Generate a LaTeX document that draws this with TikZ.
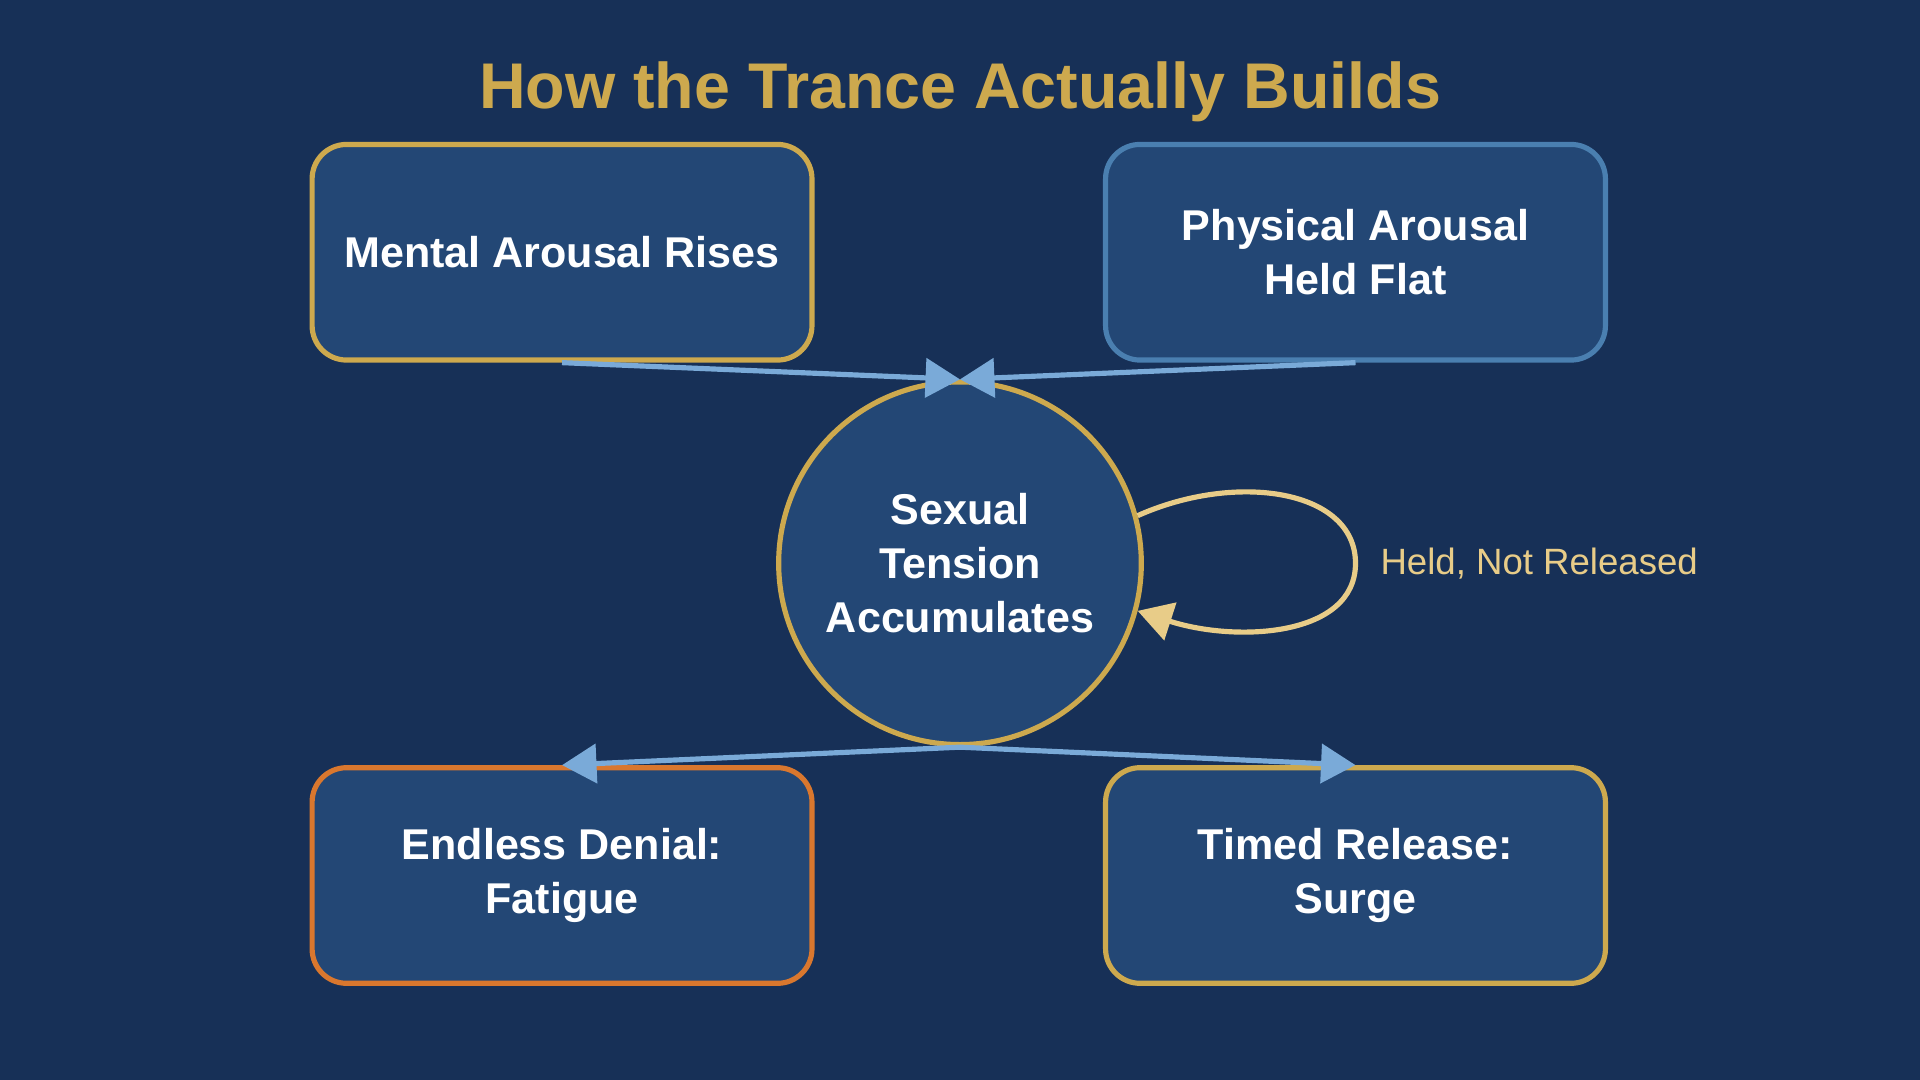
\documentclass[tikz,border=0pt]{standalone}
\usepackage{fontspec}
\setmainfont{Liberation Sans}
\usetikzlibrary{positioning}
\usetikzlibrary{arrows.meta}
\definecolor{bg}{HTML}{173057}
\definecolor{boxfill}{HTML}{234775}
\definecolor{gold}{HTML}{CDA94E}
\definecolor{steel}{HTML}{4A7FB0}
\definecolor{rust}{HTML}{D9772E}
\definecolor{flow}{HTML}{7AAAD8}
\definecolor{pale}{HTML}{E8CC88}
\tikzset{
  stage/.style={draw, line width=1.2pt, fill=boxfill, rounded corners=8pt,
    minimum width=4.08cm, minimum height=1.76cm, align=center,
    text=white, font=\fontsize{10}{12.5}\selectfont\bfseries},
  flowline/.style={draw=flow, line width=1.2pt, -{Triangle[length=8pt,width=9pt]}},
}
\begin{document}
\begin{tikzpicture}[x=0.01cm,y=-0.01cm]
		\fill[bg] (0,0) rectangle (1568,882);
		\node (title) at (784,75) [text=gold, font=\fontsize{15}{18}\selectfont\bfseries] {How the Trance Actually Builds};
		\node (mental) [stage, draw=gold] at (459,206) {Mental Arousal Rises};
		\node (physical) [stage, draw=steel] at (1107,206) {Physical Arousal\\Held Flat};
		\node (tension) [circle, draw=gold, line width=1.2pt, fill=boxfill, minimum size=2.96cm,
		  align=center, text=white, font=\fontsize{10}{12.5}\selectfont\bfseries] at (784,460) {Sexual\\Tension\\Accumulates};
		\node (denial) [stage, draw=rust] at (459,715) {Endless Denial:\\Fatigue};
		\node (release) [stage, draw=gold] at (1107,715) {Timed Release:\\Surge};
		\draw[flowline] (mental.south) -- (tension.north);
		\draw[flowline] (physical.south) -- (tension.north);
		\draw[flowline] (tension.south) -- (denial.north);
		\draw[flowline] (tension.south) -- (release.north);
		\draw[draw=pale, line width=1.2pt, -{Triangle[length=8pt,width=9pt]}]
		  (tension.15) .. controls (1010,385) and (1107,400) .. (1107,460)
		  coordinate (loop) .. controls (1107,520) and (1010,525) .. (tension.-15);
		\node (held) [anchor=west, text=pale, font=\fontsize{8.5}{10}\selectfont] at ([xshift=0.08cm]loop) {Held, Not Released};
\end{tikzpicture}
\end{document}
